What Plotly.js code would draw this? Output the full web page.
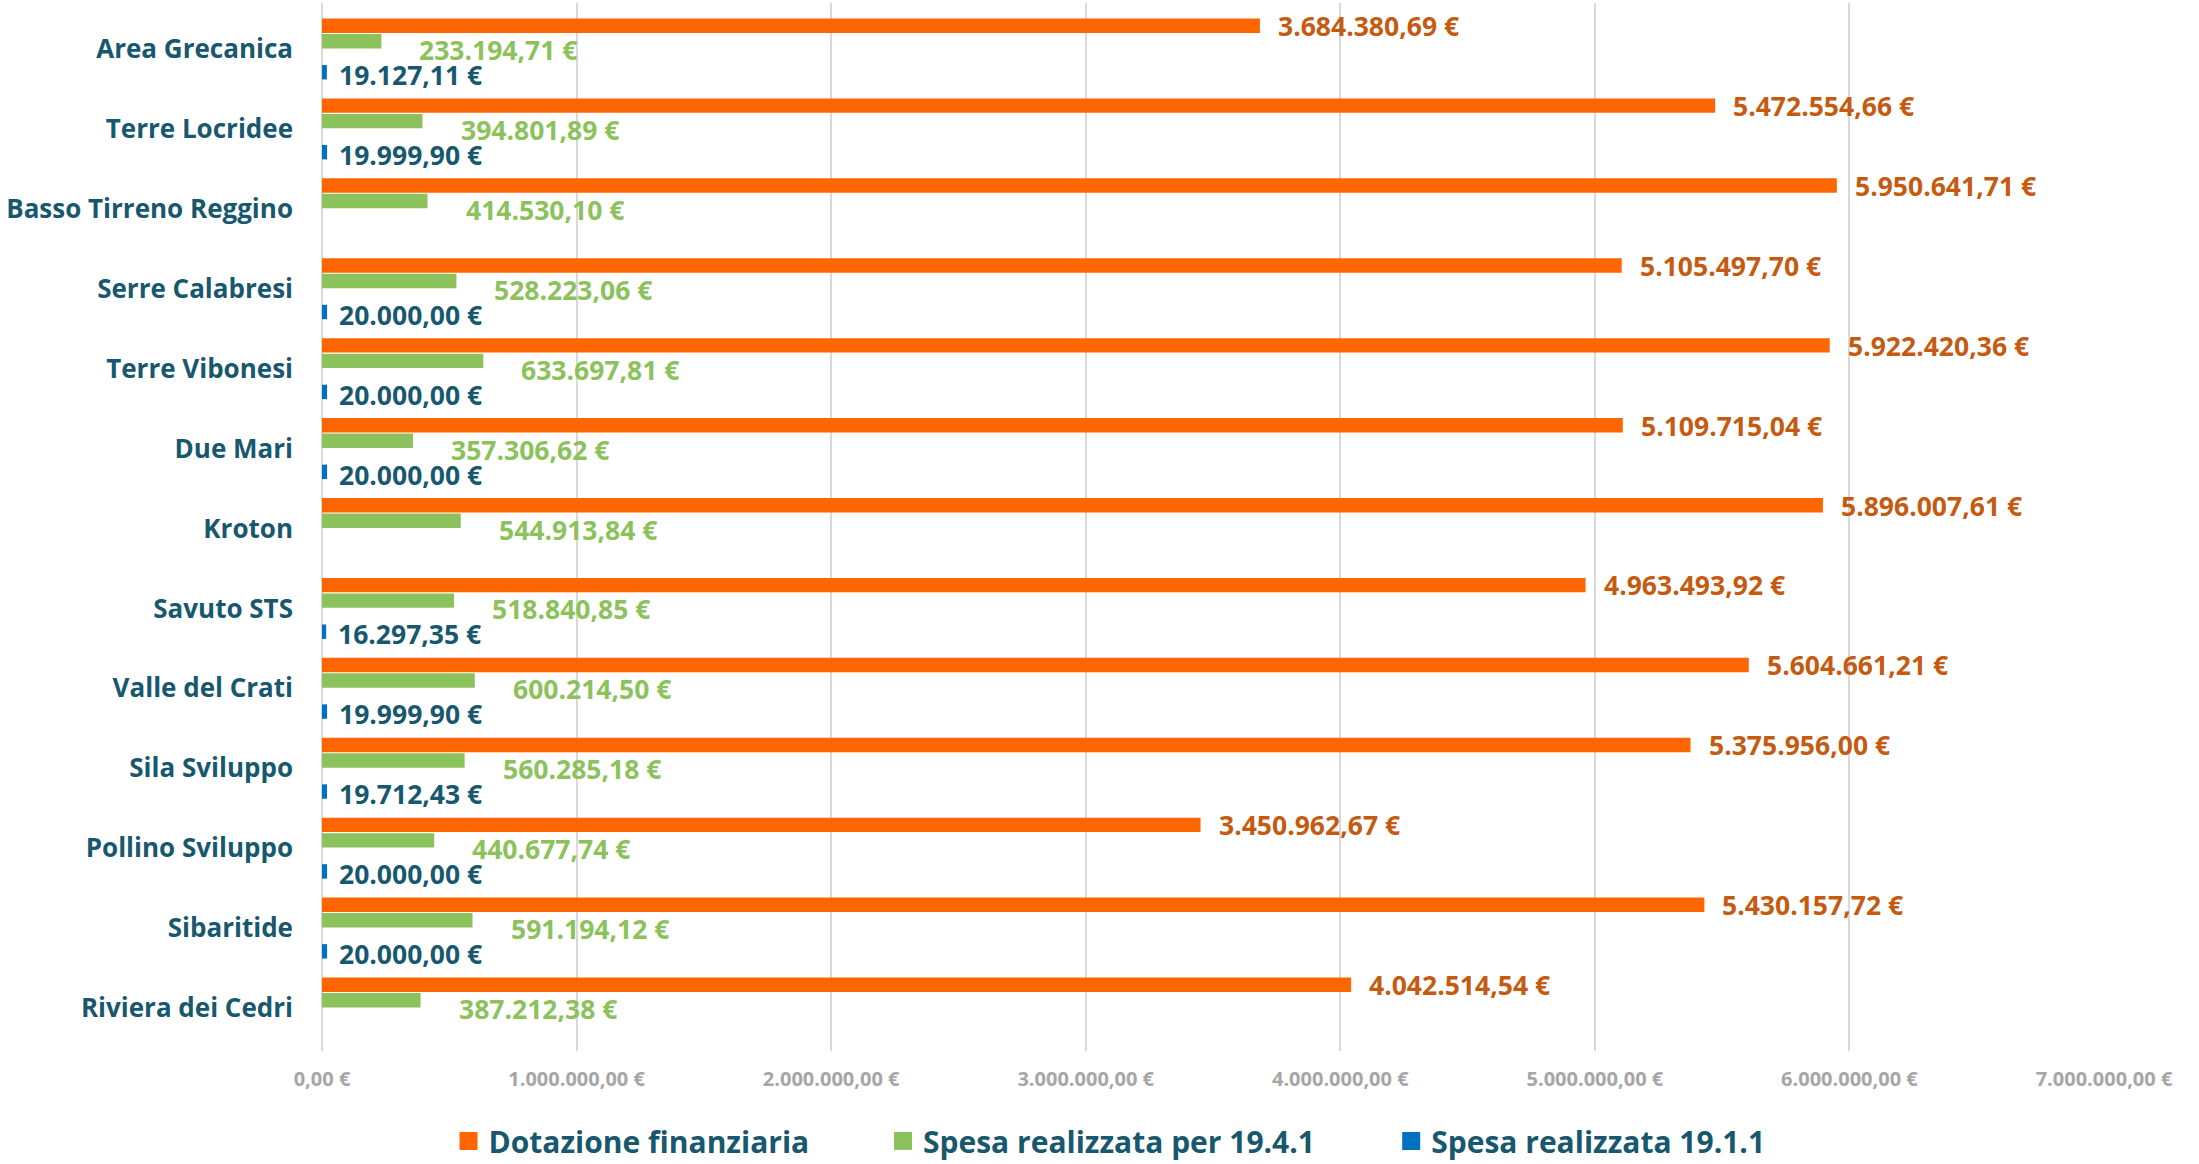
<!DOCTYPE html>
<html>
<head>
<meta charset="utf-8">
<script src="https://cdn.plot.ly/plotly-3.0.1.min.js"></script>
<style>
  html, body { margin: 0; padding: 0; background: #ffffff; }
  #chart { width: 2199px; height: 1164px; }
</style>
</head>
<body>
<div id="chart"></div>
<script>
// ---- Data ----
const categories = [
  "Area Grecanica", "Terre Locridee", "Basso Tirreno Reggino", "Serre Calabresi",
  "Terre Vibonesi", "Due Mari", "Kroton", "Savuto STS", "Valle del Crati",
  "Sila Sviluppo", "Pollino Sviluppo", "Sibaritide", "Riviera dei Cedri"
];
const dotazione = [
  3684380.69, 5472554.66, 5950641.71, 5105497.70, 5922420.36, 5109715.04,
  5896007.61, 4963493.92, 5604661.21, 5375956.00, 3450962.67, 5430157.72, 4042514.54
];
const spesa1941 = [
  233194.71, 394801.89, 414530.10, 528223.06, 633697.81, 357306.62,
  544913.84, 518840.85, 600214.50, 560285.18, 440677.74, 591194.12, 387212.38
];
const spesa1911 = [
  19127.11, 19999.90, null, 20000.00, 20000.00, 20000.00,
  null, 16297.35, 19999.90, 19712.43, 20000.00, 20000.00, null
];
const seriesNames = ["Dotazione finanziaria", "Spesa realizzata per 19.4.1", "Spesa realizzata 19.1.1"];
const xTickVals = [0, 1000000, 2000000, 3000000, 4000000, 5000000, 6000000, 7000000];

// ---- Styles ----
const FONT = "Open Sans, Segoe UI, sans-serif";
const TEAL = "#17586E";
const ORANGE = "#FF6600", ORANGE_TXT = "#C55A11";
const GREEN = "#8CC25B";
const BLUE = "#0070C0";
const SLOT = 0.194;   // thickness of one bar slot (category units)

function fmtEuro(v) {
  const fixed = v.toFixed(2);
  const parts = fixed.split(".");
  const intPart = parts[0].replace(/\B(?=(\d{3})+(?!\d))/g, ".");
  return intPart + "," + parts[1] + " €";
}

// bar slots inside each category: orange, green, (empty slot), blue
const seriesDefs = [
  { name: seriesNames[0], values: dotazione, color: ORANGE, legend: "legend",  offset: -2 * SLOT },
  { name: seriesNames[1], values: spesa1941, color: GREEN,  legend: "legend2", offset: -1 * SLOT },
  { name: seriesNames[2], values: spesa1911, color: BLUE,   legend: "legend3", offset: 1 * SLOT }
];
const traces = seriesDefs.map(s => ({
  type: "bar",
  orientation: "h",
  name: s.name,
  y: categories,
  x: s.values,
  width: SLOT * 0.93,
  offset: s.offset + SLOT * 0.035,
  marker: { color: s.color, line: { width: 0 } },
  legend: s.legend,
  hoverinfo: "skip"
}));

// value labels, placed through the axes from the data
const labelStyles = [
  { values: dotazione, color: ORANGE_TXT, xshift: 16, yshift: 23 },
  { values: spesa1941, color: GREEN,      xshift: 36, yshift: -1 },
  { values: spesa1911, color: TEAL,       xshift: 10, yshift: -26 }
];
const annotations = [];
labelStyles.forEach(st => {
  st.values.forEach((v, i) => {
    if (v === null || v === undefined) return;
    annotations.push({
      x: v, y: categories[i], xref: "x", yref: "y",
      text: fmtEuro(v), showarrow: false,
      xanchor: "left", yanchor: "middle",
      xshift: st.xshift, yshift: st.yshift,
      font: { family: FONT, size: 26.5, color: st.color, weight: 700 }
    });
  });
});

const legendCommon = {
  orientation: "h",
  yanchor: "middle",
  y: -0.0858,
  xanchor: "left",
  font: { family: FONT, size: 30, color: TEAL, weight: 700 },
  bgcolor: "rgba(0,0,0,0)",
  itemclick: false, itemdoubleclick: false
};

const layout = {
  width: 2199,
  height: 1164,
  paper_bgcolor: "#ffffff",
  plot_bgcolor: "#ffffff",
  margin: { l: 322, r: 95, t: 3, b: 113, pad: 0, autoexpand: false },
  barmode: "overlay",
  showlegend: true,
  legend: Object.assign({}, legendCommon, { x: 0.071 }),
  legend2: Object.assign({}, legendCommon, { x: 0.3148 }),
  legend3: Object.assign({}, legendCommon, { x: 0.600 }),
  xaxis: {
    range: [0, 7000000],
    tickmode: "array",
    tickvals: xTickVals,
    ticktext: xTickVals.map(fmtEuro),
    showgrid: true,
    gridcolor: "#D9D9D9",
    gridwidth: 2,
    zeroline: true,
    zerolinecolor: "#D9D9D9",
    zerolinewidth: 2,
    showline: false,
    ticks: "",
    ticklabelstandoff: 14,
    tickfont: { family: FONT, size: 20, color: "#A6A6A6", weight: 700 },
    fixedrange: true
  },
  yaxis: {
    type: "category",
    categoryorder: "array",
    categoryarray: categories,
    autorange: "reversed",
    showgrid: false,
    zeroline: false,
    showline: false,
    ticks: "",
    ticklabelstandoff: 28,
    tickfont: { family: FONT, size: 26, color: TEAL, weight: 700 },
    fixedrange: true
  },
  annotations: annotations
};

Plotly.newPlot("chart", traces, layout, { displayModeBar: false, staticPlot: true }).then(gd => {
  // enlarge the legend colour squares to the reference size (keep their own placement)
  gd.querySelectorAll(".legendpoints path").forEach(p => {
    const t = p.getAttribute("transform") || "";
    p.setAttribute("transform", (t + " scale(1.5)").trim());
  });
});
</script>
</body>
</html>
